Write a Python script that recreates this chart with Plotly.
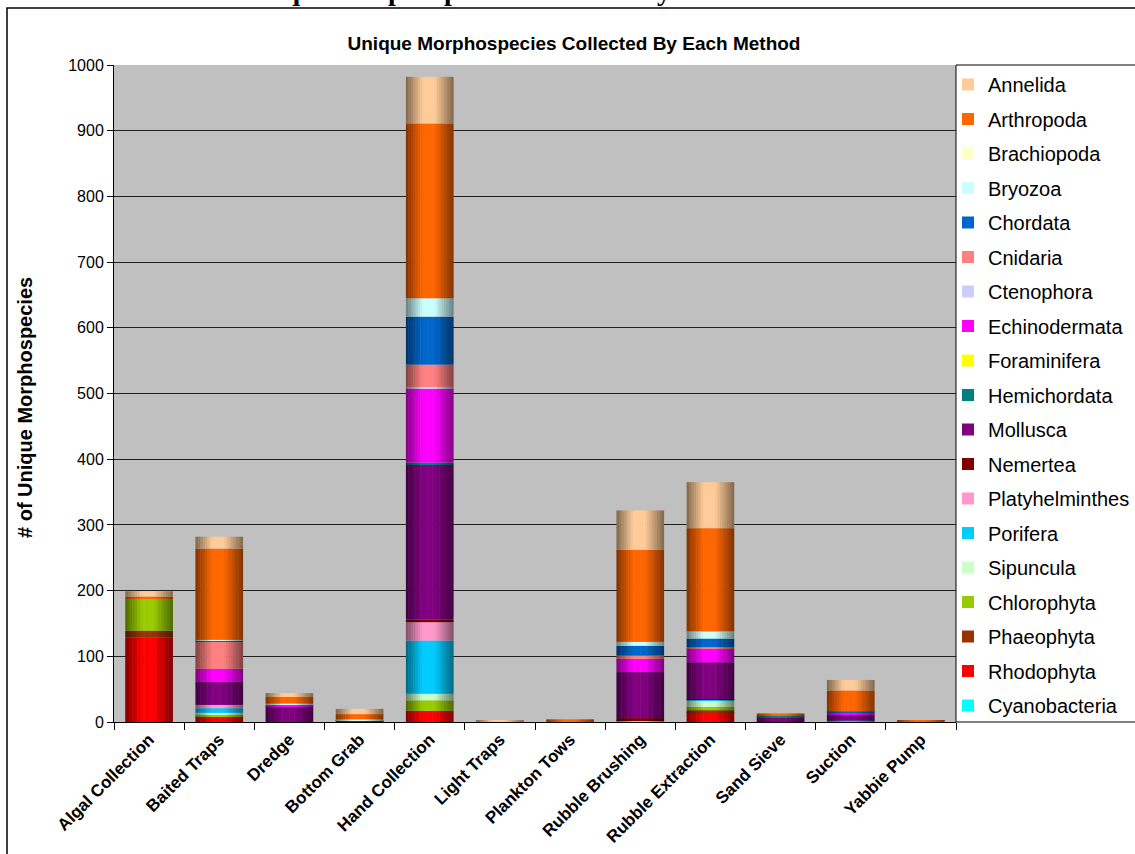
import numpy as np
import plotly.graph_objects as go

categories = ["Algal Collection", "Baited Traps", "Dredge", "Bottom Grab",
              "Hand Collection", "Light Traps", "Plankton Tows", "Rubble Brushing",
              "Rubble Extraction", "Sand Sieve", "Suction", "Yabbie Pump"]

# stacking order: bottom to top
cyanobacteria   = [0,   0,   0,  0,   0, 0, 0,   0,   0, 0,  0, 0]
rhodophyta      = [129, 8,   0,  0,  17, 0, 0,   0,  15, 0,  0, 0]
phaeophyta      = [10,  1,   0,  0,   0, 0, 0,   0,   3, 0,  0, 0]
chlorophyta     = [48,  2,   0,  0,  16, 0, 0,   0,   5, 0,  0, 0]
sipuncula       = [0,   3,   0,  0,  10, 0, 0,   0,   9, 0,  0, 0]
porifera        = [0,   7,   0,  0,  81, 0, 0,   0,   2, 0,  2, 0]
platyhelminthes = [0,   5,   0,  0,  28, 0, 0,   3,   0, 0,  0, 0]
nemertea        = [0,   0,   0,  0,   4, 0, 0,   3,   1, 0,  0, 0]
mollusca        = [0,  35,  24,  2, 236, 0, 0,  70,  56, 7,  9, 0]
hemichordata    = [0,   0,   0,  0,   3, 0, 0,   0,   0, 3,  0, 0]
foraminifera    = [0,   0,   0,  0,   0, 0, 0,   0,   0, 0,  0, 0]
echinodermata   = [0,  20,   2,  0, 113, 0, 0,  20,  21, 0,  3, 0]
ctenophora      = [0,   0,   0,  0,   2, 0, 0,   0,   0, 0,  0, 0]
cnidaria        = [0,  41,   0,  0,  34, 0, 0,   5,   2, 0,  0, 0]
chordata        = [0,   2,   0,  1,  73, 0, 0,  15,  13, 0,  2, 0]
bryozoa         = [0,   1,   2,  1,  28, 0, 0,   6,  11, 0,  0, 0]
brachiopoda     = [0,   0,   0,  0,   0, 0, 0,   0,   0, 0,  0, 0]
arthropoda      = [4, 139,  10,  8, 266, 1, 4, 140, 157, 3, 32, 2]
annelida        = [8,  18,   6,  8,  71, 1, 0,  60,  70, 0, 16, 0]

series = [
    ("Cyanobacteria", cyanobacteria, "#00FFFF"),
    ("Rhodophyta", rhodophyta, "#FF0000"),
    ("Phaeophyta", phaeophyta, "#993300"),
    ("Chlorophyta", chlorophyta, "#99CC00"),
    ("Sipuncula", sipuncula, "#CCFFCC"),
    ("Porifera", porifera, "#00CCFF"),
    ("Platyhelminthes", platyhelminthes, "#FF99CC"),
    ("Nemertea", nemertea, "#800000"),
    ("Mollusca", mollusca, "#800080"),
    ("Hemichordata", hemichordata, "#008080"),
    ("Foraminifera", foraminifera, "#FFFF00"),
    ("Echinodermata", echinodermata, "#FF00FF"),
    ("Ctenophora", ctenophora, "#CCCCFF"),
    ("Cnidaria", cnidaria, "#FF8080"),
    ("Chordata", chordata, "#0066CC"),
    ("Bryozoa", bryozoa, "#CCFFFF"),
    ("Brachiopoda", brachiopoda, "#FFFFCC"),
    ("Arthropoda", arthropoda, "#FF6600"),
    ("Annelida", annelida, "#FFCC99"),
]

N_SLICES = 20
BAR_W = 0.68


def shade(t):
    if t < 0.35:
        return 0.5 + 0.5 * t / 0.35
    if t <= 0.6:
        return 1.0
    return 1.0 - 0.5 * (t - 0.6) / 0.4


def rgb(hexcol, f):
    h = hexcol.lstrip("#")
    r, g, b = (int(h[i:i + 2], 16) for i in (0, 2, 4))
    return f"rgb({int(r * f)},{int(g * f)},{int(b * f)})"


fig = go.Figure()
base = np.zeros(len(categories))
n_series = len(series)
for i, (name, vals, col) in enumerate(series):
    v = np.array(vals, dtype=float)
    for k in range(N_SLICES):
        t = (k + 0.5) / N_SLICES
        w = BAR_W / N_SLICES
        wd = w * 1.2 if k < N_SLICES - 1 else w
        fig.add_trace(go.Bar(
            x=categories, y=v, base=base.copy(),
            offset=-BAR_W / 2 + k * w, width=wd,
            marker=dict(color=rgb(col, shade(t)), line=dict(width=0)),
            name=name, legendgroup=name,
            showlegend=(k == N_SLICES // 2 - 1),
            legendrank=n_series - i,
            hovertemplate=name + ": %{y}<extra></extra>",
        ))
    base = base + v

L, R, T, B = 114, 179, 65, 132
W, H = 1135, 854
pw, ph = W - L - R, H - T - B


def px_x(p):
    return (p - L) / pw


def px_y(q):
    return (H - B - q) / ph


fig.update_layout(
    width=W, height=H,
    barmode="overlay",
    margin=dict(l=L, r=R, t=T, b=B, autoexpand=False),
    paper_bgcolor="white",
    plot_bgcolor="#C0C0C0",
    font=dict(family="Liberation Sans, Arial, sans-serif", color="black"),
    title=dict(text="Unique Morphospecies Collected By Each Method",
               x=574 / W, xanchor="center", xref="container",
               y=1 - 43 / H, yanchor="middle", yref="container",
               font=dict(size=19, weight="bold")),
    showlegend=True,
    legend=dict(x=px_x(948), xanchor="left", y=1.0, yanchor="top",
                font=dict(size=20), bgcolor="rgba(0,0,0,0)",
                borderwidth=0, tracegroupgap=5.5, traceorder="grouped",
                itemwidth=30),
    xaxis=dict(type="category", showline=True, linecolor="black", linewidth=1,
               ticks="outside", tickson="boundaries", ticklen=7, tickcolor="black",
               tickangle=-45, tickfont=dict(size=17, weight="bold"),
               showgrid=False, range=[-0.5, 11.5]),
    yaxis=dict(range=[0, 1000], dtick=100, showline=True, linecolor="black",
               linewidth=1, ticks="outside", ticklen=6, tickcolor="black",
               tickfont=dict(size=16), showgrid=True, gridcolor="#202020",
               gridwidth=1, zeroline=False),
    shapes=[
        # legend box
        dict(type="rect", xref="paper", yref="paper",
             x0=px_x(956), x1=px_x(1160), y0=0, y1=1,
             line=dict(color="black", width=1), fillcolor="white", layer="below"),
        # outer chart border
        dict(type="rect", xref="paper", yref="paper",
             x0=px_x(7), x1=px_x(1160), y0=px_y(880), y1=px_y(8),
             line=dict(color="black", width=1.5), fillcolor="rgba(0,0,0,0)"),
    ],
    annotations=[
        dict(text="# of Unique Morphospecies", textangle=-90,
             xref="paper", yref="paper", x=px_x(25), y=px_y(408),
             xanchor="center", yanchor="middle", showarrow=False,
             font=dict(size=20, weight="bold")),
        dict(text="Unique Morphospecies Collected by Each Method",
             xref="paper", yref="paper", x=px_x(540), y=px_y(-10),
             xanchor="center", yanchor="middle", showarrow=False,
             font=dict(family="Liberation Serif, Times New Roman, serif",
                       size=28, weight="bold")),
    ],
)

fig.write_html("out.html", config={"displayModeBar": False},
               post_script="document.body.style.margin='0';")
